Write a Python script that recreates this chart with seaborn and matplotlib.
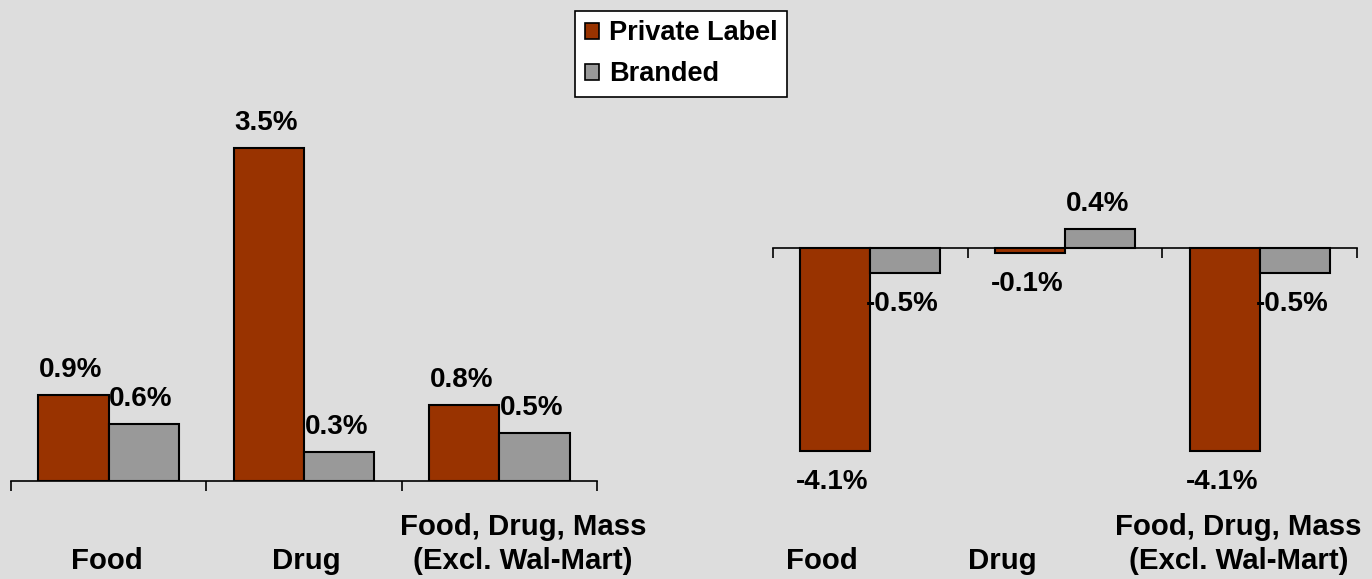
import matplotlib
matplotlib.use("Agg")
import matplotlib.pyplot as plt
from matplotlib.patches import Patch
import seaborn as sns
import pandas as pd

# Store-type categories and the two product series
categories = ["Food", "Drug", "Food, Drug, Mass\n(Excl. Wal-Mart)"]
series = ["Private Label", "Branded"]
left_private = [0.9, 3.5, 0.8]
left_branded = [0.6, 0.3, 0.5]
right_private = [-4.1, -0.1, -4.1]
right_branded = [-0.5, 0.4, -0.5]

colors = {"Private Label": "#993300", "Branded": "#999999"}
bg = "#dddddd"

sns.set_theme(style="white")
plt.rcParams["font.family"] = ["Liberation Sans", "DejaVu Sans"]
plt.rcParams["font.weight"] = "bold"
plt.rcParams["text.color"] = "black"

def frame(private, branded):
    return pd.DataFrame({
        "category": categories * 2,
        "series": [series[0]] * 3 + [series[1]] * 3,
        "value": list(private) + list(branded),
    })

fig = plt.figure(figsize=(13.72, 5.79), dpi=100, facecolor=bg)
ax_l = fig.add_axes([11 / 1372, 1 - 481 / 579, 586 / 1372, 381 / 579])
ax_r = fig.add_axes([773 / 1372, 1 - 481 / 579, 584 / 1372, 381 / 579])

fs_val = 20
fs_cat = 21.2
fs_leg = 19.5
panels = [
    (ax_l, frame(left_private, left_branded), (0, 4.0), [-0.01, 1.01, 2.12]),
    (ax_r, frame(right_private, right_branded), (-4.7, 3.0), [-0.25, 0.68, 1.89]),
]

for ax, df, ylim, label_x in panels:
    ax.set_facecolor(bg)
    sns.barplot(data=df, x="category", y="value", hue="series", order=categories,
                hue_order=series, palette=colors, width=0.72, edgecolor="black",
                linewidth=1.5, saturation=1, legend=False, ax=ax)
    ax.set_xlim(-0.5, 2.5)
    ax.set_ylim(*ylim)
    for s in ["left", "right", "top"]:
        ax.spines[s].set_visible(False)
    ax.spines["bottom"].set_position(("data", 0))
    ax.spines["bottom"].set_color("black")
    ax.spines["bottom"].set_linewidth(1.2)
    ax.set_yticks([])
    ax.set_xticks([-0.5, 0.5, 1.5, 2.5])
    ax.set_xticklabels([])
    ax.tick_params(axis="x", direction="out", length=7, width=1.2, color="black", bottom=True)
    ax.set_xlabel("")
    ax.set_ylabel("")

    # value labels above positive bars, below negative bars
    for container in ax.containers:
        for bar in container:
            h = bar.get_height()
            cx = bar.get_x() + bar.get_width() / 2
            if h >= 0:
                ax.annotate(f"{h:.1f}%", (cx, h), xytext=(-2, 13), textcoords="offset points",
                            ha="center", va="baseline", fontsize=fs_val, fontweight="bold",
                            color="black")
            else:
                ax.annotate(f"{h:.1f}%", (cx, h), xytext=(-2, -13), textcoords="offset points",
                            ha="center", va="top", fontsize=fs_val, fontweight="bold",
                            color="black")

    # category labels along the bottom
    for name, x in zip(categories, label_x):
        ax.annotate(name, (x, 0), xycoords=("data", "axes fraction"), xytext=(0, -68),
                    textcoords="offset points", ha="center", va="bottom",
                    multialignment="center", fontsize=fs_cat, fontweight="bold",
                    linespacing=1.3, annotation_clip=False, color="black")

handles = [Patch(facecolor=colors[s], edgecolor="black", linewidth=1.2, label=s) for s in series]
leg = fig.legend(handles=handles, loc="upper center", bbox_to_anchor=(681 / 1372, 1 - 11 / 579),
                 frameon=True, fancybox=False, framealpha=1, edgecolor="black",
                 prop={"size": fs_leg, "weight": "bold"}, handlelength=0.55, handleheight=0.55,
                 handletextpad=0.35, labelspacing=0.55, borderpad=0.35, borderaxespad=0,
                 labelcolor="black")
leg.get_frame().set_linewidth(1.2)

fig.savefig("out.png", dpi=100, facecolor=bg)
